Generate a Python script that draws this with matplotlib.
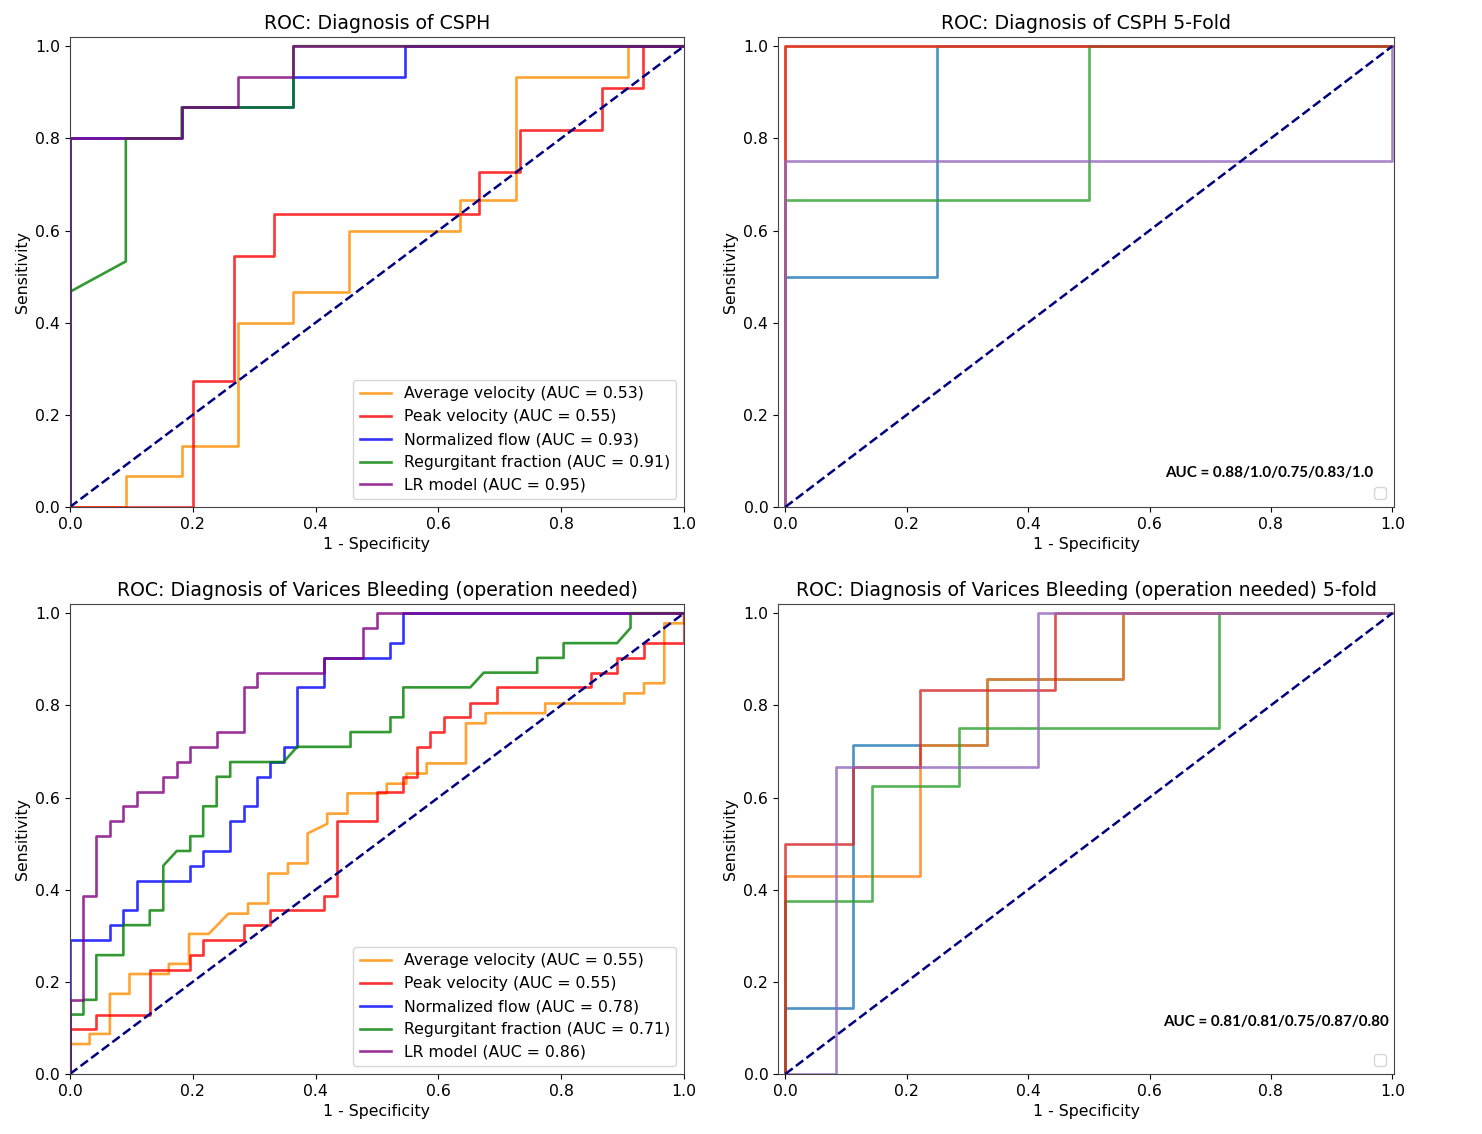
import matplotlib
matplotlib.use("Agg")
import matplotlib.pyplot as plt

# names of the predictors shown in the left column
feature_names = ["Average velocity", "Peak velocity", "Normalized flow",
                 "Regurgitant fraction", "LR model"]
feature_colors = ["darkorange", "red", "blue", "green", "purple"]

# ---- CSPH (single split) ----
csph_auc = [0.53, 0.55, 0.93, 0.91, 0.95]
csph_fpr = [
    [0, 0.091, 0.091, 0.182, 0.182, 0.273, 0.273, 0.364, 0.364, 0.455, 0.455, 0.636, 0.636, 0.727, 0.727, 0.909, 0.909, 1.0],
    [0, 0.2, 0.2, 0.267, 0.267, 0.333, 0.333, 0.667, 0.667, 0.733, 0.733, 0.867, 0.867, 0.933, 0.933, 1.0],
    [0, 0, 0.182, 0.182, 0.364, 0.364, 0.545, 0.545, 1.0],
    [0, 0, 0.091, 0.091, 0.182, 0.182, 0.364, 0.364, 1.0],
    [0, 0, 0.182, 0.182, 0.273, 0.273, 0.364, 0.364, 1.0],
]
csph_tpr = [
    [0, 0, 0.067, 0.067, 0.133, 0.133, 0.4, 0.4, 0.467, 0.467, 0.6, 0.6, 0.667, 0.667, 0.933, 0.933, 1.0, 1.0],
    [0, 0, 0.273, 0.273, 0.545, 0.545, 0.636, 0.636, 0.727, 0.727, 0.818, 0.818, 0.909, 0.909, 1.0, 1.0],
    [0, 0.8, 0.8, 0.867, 0.867, 0.933, 0.933, 1.0, 1.0],
    [0, 0.467, 0.533, 0.8, 0.8, 0.867, 0.867, 1.0, 1.0],
    [0, 0.8, 0.8, 0.867, 0.867, 0.933, 0.933, 1.0, 1.0],
]

# ---- Varices bleeding (single split) ----
vb_auc = [0.55, 0.55, 0.78, 0.71, 0.86]
vb_fpr = [
    [0, 0, 0.032, 0.032, 0.065, 0.065, 0.097, 0.097, 0.161, 0.161, 0.194, 0.194, 0.226, 0.258, 0.290, 0.290,
     0.323, 0.323, 0.355, 0.355, 0.387, 0.387, 0.419, 0.419, 0.452, 0.452, 0.516, 0.516, 0.548, 0.548, 0.581,
     0.581, 0.645, 0.645, 0.677, 0.677, 0.774, 0.774, 0.903, 0.903, 0.935, 0.935, 0.968, 0.968, 1.0, 1.0],
    [0, 0, 0.043, 0.043, 0.130, 0.130, 0.196, 0.196, 0.217, 0.217, 0.283, 0.283, 0.326, 0.326, 0.413, 0.413,
     0.435, 0.435, 0.5, 0.5, 0.543, 0.543, 0.565, 0.565, 0.587, 0.587, 0.609, 0.609, 0.652, 0.652, 0.696,
     0.696, 0.848, 0.848, 0.891, 0.891, 0.935, 0.935, 1.0, 1.0],
    [0, 0, 0.065, 0.065, 0.087, 0.087, 0.109, 0.109, 0.196, 0.196, 0.217, 0.217, 0.261, 0.261, 0.283, 0.283,
     0.304, 0.304, 0.326, 0.326, 0.348, 0.348, 0.370, 0.370, 0.413, 0.413, 0.522, 0.522, 0.543, 0.543, 1.0],
    [0, 0, 0.022, 0.022, 0.043, 0.043, 0.087, 0.087, 0.130, 0.130, 0.152, 0.152, 0.174, 0.196, 0.196, 0.217,
     0.217, 0.239, 0.239, 0.261, 0.261, 0.348, 0.370, 0.457, 0.457, 0.522, 0.522, 0.543, 0.543, 0.652, 0.674,
     0.761, 0.761, 0.804, 0.804, 0.891, 0.913, 0.913, 1.0],
    [0, 0, 0.022, 0.022, 0.043, 0.043, 0.065, 0.065, 0.087, 0.087, 0.109, 0.109, 0.152, 0.152, 0.174, 0.174,
     0.196, 0.196, 0.239, 0.239, 0.283, 0.283, 0.304, 0.304, 0.413, 0.413, 0.478, 0.478, 0.5, 0.5, 1.0],
]
vb_tpr = [
    [0, 0.065, 0.065, 0.087, 0.087, 0.174, 0.174, 0.217, 0.217, 0.239, 0.239, 0.304, 0.304, 0.348, 0.348, 0.370,
     0.370, 0.435, 0.435, 0.457, 0.457, 0.522, 0.543, 0.565, 0.565, 0.609, 0.609, 0.630, 0.630, 0.652, 0.652,
     0.674, 0.674, 0.761, 0.761, 0.783, 0.783, 0.804, 0.804, 0.826, 0.826, 0.848, 0.848, 0.978, 0.978, 1.0],
    [0, 0.097, 0.097, 0.129, 0.129, 0.226, 0.226, 0.258, 0.258, 0.290, 0.290, 0.323, 0.323, 0.355, 0.355, 0.387,
     0.387, 0.548, 0.548, 0.613, 0.613, 0.645, 0.645, 0.710, 0.710, 0.742, 0.742, 0.774, 0.774, 0.806, 0.806,
     0.839, 0.839, 0.871, 0.871, 0.903, 0.903, 0.935, 0.935, 1.0],
    [0, 0.290, 0.290, 0.323, 0.323, 0.355, 0.355, 0.419, 0.419, 0.452, 0.452, 0.484, 0.484, 0.548, 0.548, 0.581,
     0.581, 0.645, 0.645, 0.677, 0.677, 0.710, 0.710, 0.839, 0.839, 0.903, 0.903, 0.935, 0.935, 1.0, 1.0],
    [0, 0.129, 0.129, 0.161, 0.161, 0.258, 0.258, 0.323, 0.323, 0.355, 0.355, 0.452, 0.484, 0.484, 0.516, 0.516,
     0.581, 0.581, 0.645, 0.645, 0.677, 0.677, 0.710, 0.710, 0.742, 0.742, 0.774, 0.774, 0.839, 0.839, 0.871,
     0.871, 0.903, 0.903, 0.935, 0.935, 0.968, 1.0, 1.0],
    [0, 0.161, 0.161, 0.387, 0.387, 0.516, 0.516, 0.548, 0.548, 0.581, 0.581, 0.613, 0.613, 0.645, 0.645, 0.677,
     0.677, 0.710, 0.710, 0.742, 0.742, 0.839, 0.839, 0.871, 0.871, 0.903, 0.903, 0.968, 0.968, 1.0, 1.0],
]

# ---- 5-fold CV curves (right column) ----
csph_fold_fpr = [
    [0, 0, 0.25, 0.25, 1.0],
    [0, 0, 1.0],
    [0, 0, 0.5, 0.5, 1.0],
    [0, 0, 1.0],
    [0, 0, 1.0, 1.0],
]
csph_fold_tpr = [
    [0, 0.5, 0.5, 1.0, 1.0],
    [0, 1.0, 1.0],
    [0, 0.667, 0.667, 1.0, 1.0],
    [0, 1.0, 1.0],
    [0, 0.75, 0.75, 1.0],
]
csph_fold_text = "AUC = 0.88/1.0/0.75/0.83/1.0"

vb_fold_fpr = [
    [0, 0, 0.111, 0.111, 0.333, 0.333, 0.556, 0.556, 1.0],
    [0, 0, 0.222, 0.222, 0.333, 0.333, 0.556, 0.556, 1.0],
    [0, 0, 0.143, 0.143, 0.286, 0.286, 0.714, 0.714, 1.0],
    [0, 0, 0.111, 0.111, 0.222, 0.222, 0.444, 0.444, 1.0],
    [0, 0.083, 0.083, 0.417, 0.417, 1.0],
]
vb_fold_tpr = [
    [0, 0.143, 0.143, 0.714, 0.714, 0.857, 0.857, 1.0, 1.0],
    [0, 0.429, 0.429, 0.714, 0.714, 0.857, 0.857, 1.0, 1.0],
    [0, 0.375, 0.375, 0.625, 0.625, 0.75, 0.75, 1.0, 1.0],
    [0, 0.5, 0.5, 0.667, 0.667, 0.833, 0.833, 1.0, 1.0],
    [0, 0, 0.667, 0.667, 1.0, 1.0],
]
vb_fold_text = "AUC = 0.81/0.81/0.75/0.87/0.80"

plt.rcParams['font.size'] = 11.3
plt.rcParams['axes.edgecolor'] = '#444444'

fig = plt.figure(figsize=(14.82, 11.34), dpi=100)


def single_panel(rect, fprs, tprs, aucs, title):
    ax = fig.add_axes(rect)
    for fpr, tpr, name, col, auc in zip(fprs, tprs, feature_names, feature_colors, aucs):
        ax.plot(fpr, tpr, color=col, lw=1.9, alpha=0.8, label=f"{name} (AUC = {auc:.2f})")
    ax.plot([0, 1], [0, 1], color='navy', lw=1.8, linestyle='--')
    ax.set_xlim([0.0, 1.0])
    ax.set_ylim([0.0, 1.02])
    ax.set_xlabel('1 - Specificity')
    ax.set_ylabel('Sensitivity')
    ax.set_title(title, fontsize=13.6)
    ax.legend(loc='lower right', fontsize=11.3)
    return ax


def fold_panel(rect, fprs, tprs, title):
    ax = fig.add_axes(rect)
    for i, (fpr, tpr) in enumerate(zip(fprs, tprs)):
        ax.plot(fpr, tpr, color=f"C{i}", lw=1.9, alpha=0.8)
    ax.plot([0, 1], [0, 1], color='navy', lw=1.8, linestyle='--')
    ax.set_xlim([-0.012, 1.003])
    ax.set_ylim([0.0, 1.02])
    ax.set_xlabel('1 - Specificity')
    ax.set_ylabel('Sensitivity')
    ax.set_title(title, fontsize=13.6)
    ax.legend(handles=[], loc='lower right')
    return ax


single_panel([0.0472, 0.5529, 0.4143, 0.4145], csph_fpr, csph_tpr, csph_auc,
             'ROC: Diagnosis of CSPH')
single_panel([0.0472, 0.0529, 0.4143, 0.4145], vb_fpr, vb_tpr, vb_auc,
             'ROC: Diagnosis of Varices Bleeding (operation needed)')

ax_tr = fold_panel([0.525, 0.5529, 0.4157, 0.4145], csph_fold_fpr, csph_fold_tpr,
                   'ROC: Diagnosis of CSPH 5-Fold')
ax_tr.text(0.966, 0.072, csph_fold_text, transform=ax_tr.transAxes, ha='right', va='center',
           fontsize=10.9, fontweight='bold', family=['Lato', 'DejaVu Sans'])

ax_br = fold_panel([0.525, 0.0529, 0.4157, 0.4145], vb_fold_fpr, vb_fold_tpr,
                   'ROC: Diagnosis of Varices Bleeding (operation needed) 5-fold')
ax_br.text(0.992, 0.11, vb_fold_text, transform=ax_br.transAxes, ha='right', va='center',
           fontsize=10.9, fontweight='bold', family=['Lato', 'DejaVu Sans'])

fig.savefig('out.png', dpi=100)
